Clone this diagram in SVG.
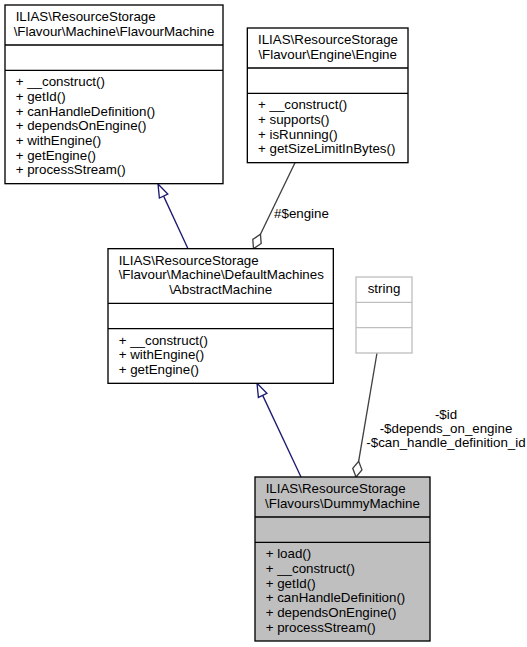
<svg xmlns="http://www.w3.org/2000/svg" width="527" height="647" viewBox="0 0 527 647">
<style>
text{font-family:"Liberation Sans",Arial,Helvetica,sans-serif;font-size:13.33px;fill:#000}
.box{fill:#fff;stroke:#000;stroke-width:1.33}
.gray{fill:#bfbfbf;stroke:#000;stroke-width:1.33}
.sbox{fill:#fff;stroke:#bfbfbf;stroke-width:1.33}
.div{stroke:#000;stroke-width:1.33;fill:none}
.sdiv{stroke:#bfbfbf;stroke-width:1.33;fill:none}
.m{text-anchor:middle}
.inh{stroke:#191970;stroke-width:1.33;fill:none}
.inhh{stroke:#191970;stroke-width:1.33;fill:#fff}
.agg{stroke:#404040;stroke-width:1.33;fill:none}
.aggh{stroke:#404040;stroke-width:1.33;fill:#fff}
</style>
<rect width="527" height="647" fill="#fff"/>
<g id="connectors">
<path class="inh" d="M188,248.67 L163.6,196.1"/>
<polygon class="inhh" points="158,184 167.8,194.1 159.4,198.1"/>
<path class="inh" d="M301,477 L262.67,395.4"/>
<polygon class="inhh" points="257,383.33 266.9,393.4 258.4,397.4"/>
<path class="agg" d="M295,162.67 L260.45,234.26"/>
<polygon class="aggh" points="253.5,248.67 261.18,243.49 260.45,234.26 252.78,239.43"/>
<text class="m" x="301.5" y="218">#$engine</text>
<path class="agg" d="M377,353 L358.67,461.22"/>
<polygon class="aggh" points="356,477 361.94,469.89 358.67,461.22 352.74,468.33"/>
<text class="m" x="446" y="418.5">-$id</text>
<text class="m" x="446" y="432.5">-$depends_on_engine</text>
<text class="m" x="446" y="446.5">-$can_handle_definition_id</text>
</g>
<g id="FlavourMachine">
<rect class="box" x="5" y="5" width="218" height="178.67"/>
<text x="15.67" y="21">ILIAS\ResourceStorage</text>
<text class="m" x="114" y="35.67">\Flavour\Machine\FlavourMachine</text>
<path class="div" d="M5,45 H223 M5,70.33 H223"/>
<text x="15.67" y="86.33">+ __construct()</text>
<text x="15.67" y="101">+ getId()</text>
<text x="15.67" y="115.67">+ canHandleDefinition()</text>
<text x="15.67" y="130.33">+ dependsOnEngine()</text>
<text x="15.67" y="145">+ withEngine()</text>
<text x="15.67" y="159.67">+ getEngine()</text>
<text x="15.67" y="174.33">+ processStream()</text>
</g>
<g id="Engine">
<rect class="box" x="247.33" y="28" width="160.67" height="134.67"/>
<text x="258" y="44">ILIAS\ResourceStorage</text>
<text class="m" x="327.67" y="58.67">\Flavour\Engine\Engine</text>
<path class="div" d="M247.33,68 H408 M247.33,93.33 H408"/>
<text x="258" y="109.33">+ __construct()</text>
<text x="258" y="124">+ supports()</text>
<text x="258" y="138.67">+ isRunning()</text>
<text x="258" y="153.33">+ getSizeLimitInBytes()</text>
</g>
<g id="AbstractMachine">
<rect class="box" x="108" y="248.67" width="225.33" height="134.67"/>
<text x="118.67" y="264.67">ILIAS\ResourceStorage</text>
<text x="118.67" y="279.33">\Flavour\Machine\DefaultMachines</text>
<text class="m" x="220.67" y="294">\AbstractMachine</text>
<path class="div" d="M108,303.33 H333.33 M108,328.67 H333.33"/>
<text x="118.67" y="344.67">+ __construct()</text>
<text x="118.67" y="359.33">+ withEngine()</text>
<text x="118.67" y="374">+ getEngine()</text>
</g>
<g id="string">
<rect class="sbox" x="356" y="277" width="56" height="76"/>
<text class="m" x="384" y="293">string</text>
<path class="sdiv" d="M356,302.33 H412 M356,327.67 H412"/>
</g>
<g id="DummyMachine">
<rect class="gray" x="255" y="477" width="175" height="164"/>
<text x="265.67" y="493">ILIAS\ResourceStorage</text>
<text class="m" x="342.5" y="507.67">\Flavours\DummyMachine</text>
<path class="div" d="M255,517 H430 M255,542.33 H430"/>
<text x="265.67" y="558.33">+ load()</text>
<text x="265.67" y="573">+ __construct()</text>
<text x="265.67" y="587.67">+ getId()</text>
<text x="265.67" y="602.33">+ canHandleDefinition()</text>
<text x="265.67" y="617">+ dependsOnEngine()</text>
<text x="265.67" y="631.67">+ processStream()</text>
</g>
</svg>
